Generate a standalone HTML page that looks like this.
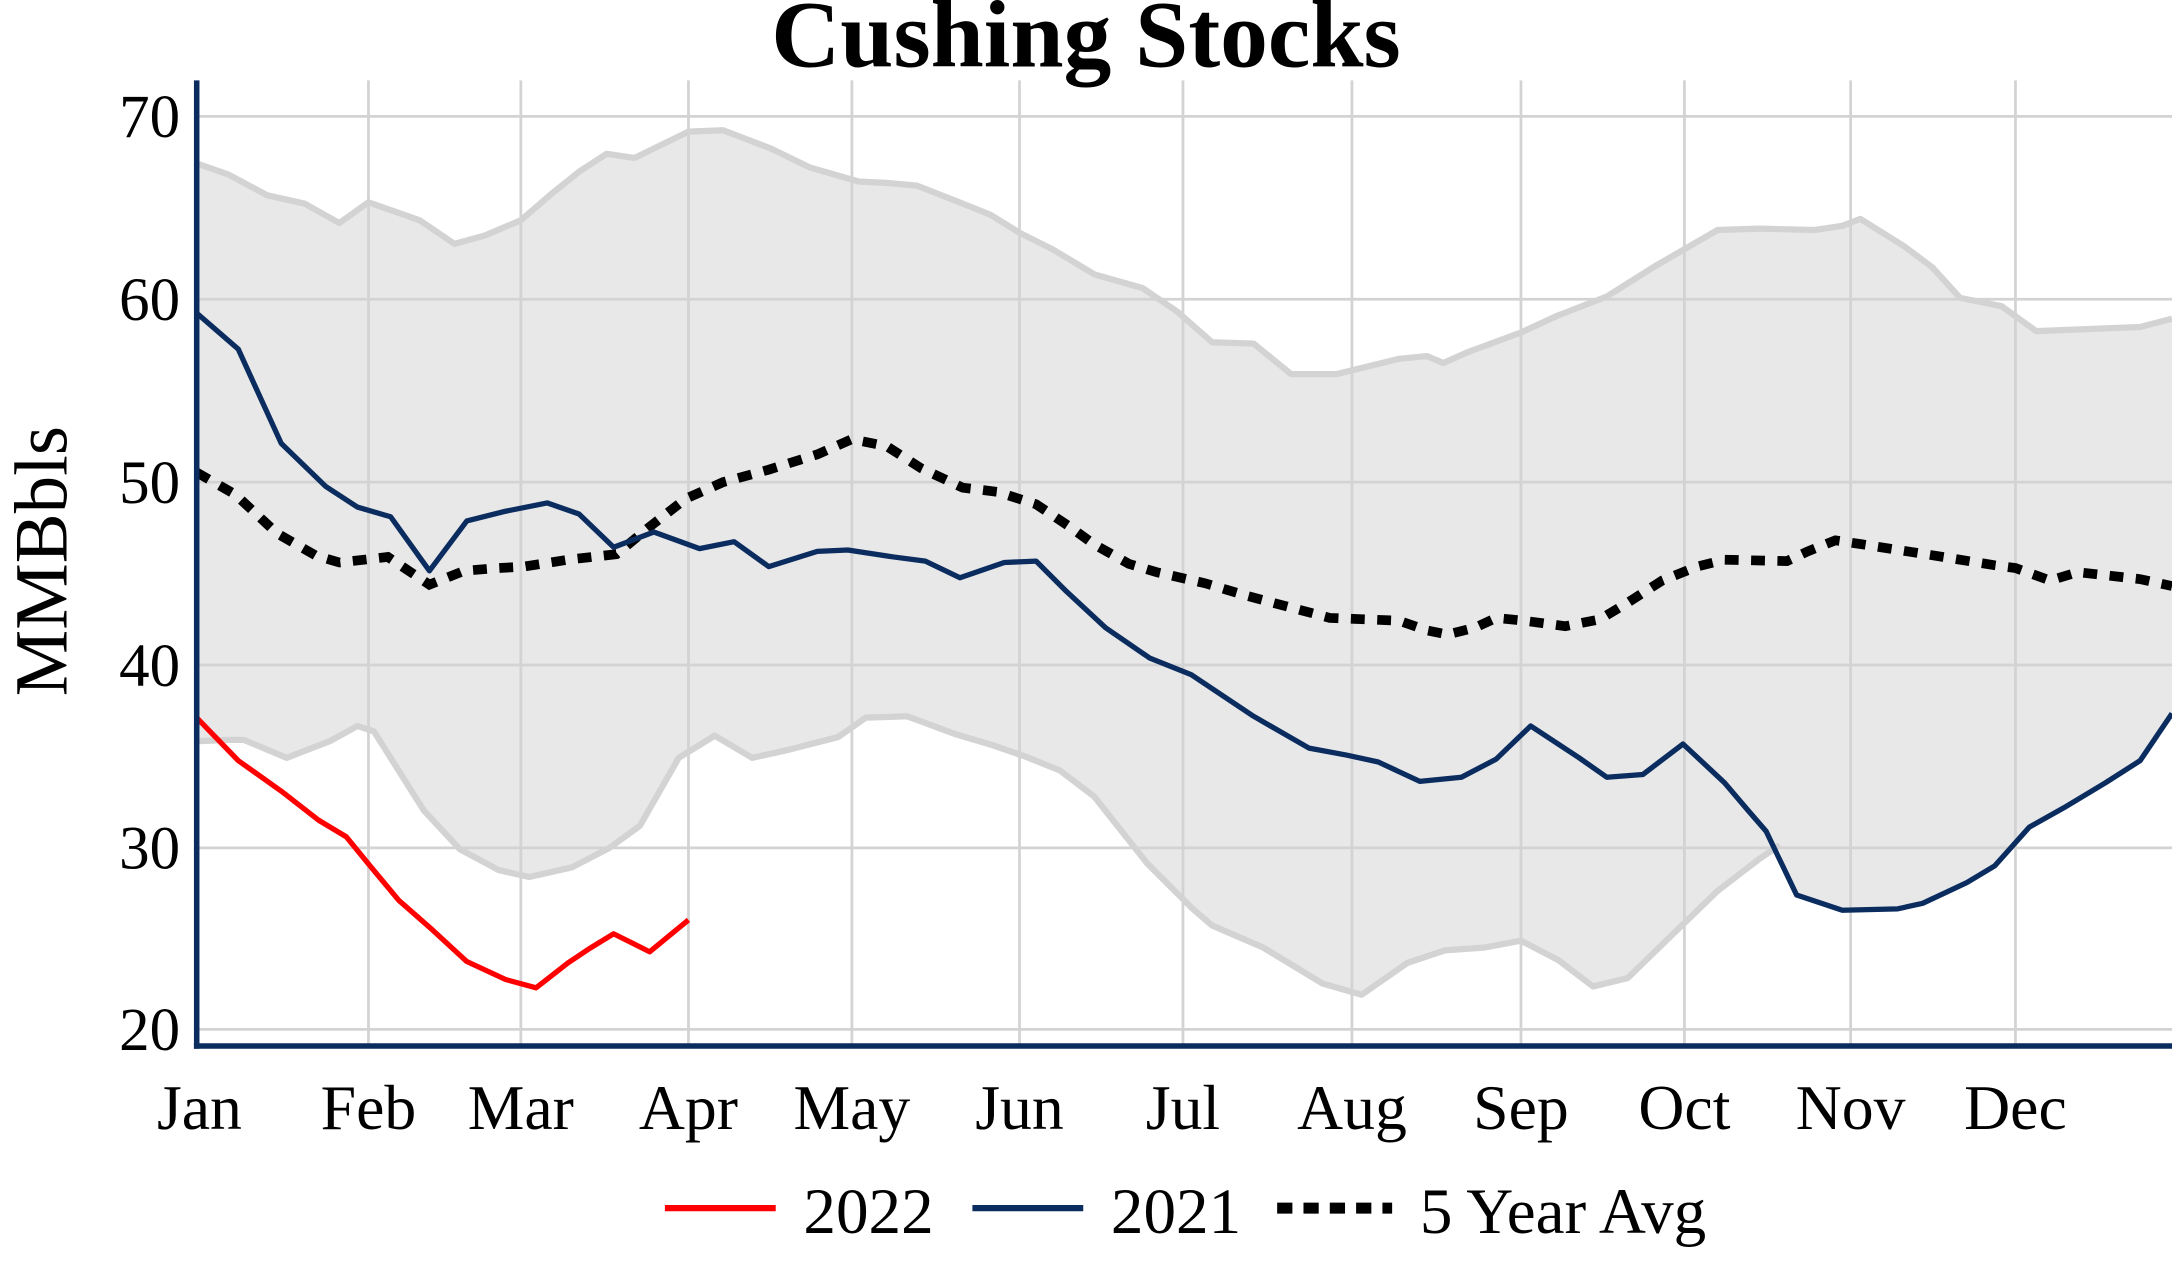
<!DOCTYPE html>
<html><head><style>html,body{margin:0;padding:0;background:#fff}svg{display:block}</style></head>
<body>
<svg width="2172" height="1276" viewBox="0 0 1568 921" preserveAspectRatio="none" xmlns="http://www.w3.org/2000/svg" font-family="Liberation Serif, serif">
<rect width="1568" height="921" fill="#fff"/>
<path fill="#e8e8e8" d="M142,118 L165,126 L193,141 L220,147 L245,161 L266,146 L303,159 L328,176 L350,170 L376,159 L398,140 L418,124 L438,111 L458,114 L497,95 L522,94 L556,107 L585,121 L620,131 L640,132 L662,134 L690,145 L715,155 L736,168 L760,180 L790,198 L825,208 L850,225 L875,247 L905,248 L932,270 L965,270 L1010,259 L1030,257 L1042,262 L1060,254 L1098,240 L1124,228 L1160,214 L1195,192 L1240,166 L1270,165 L1310,166 L1330,163 L1343,158 L1375,178 L1395,193 L1415,215 L1445,221 L1470,239 L1545,236 L1568,230 L1568,515 L1545,549 L1520,565 L1490,583 L1465,597 L1440,625 L1420,637 L1388,652 L1370,656 L1330,657 L1297,646 L1283,610 L1270,620 L1240,643 L1210,672 L1175,706 L1150,712 L1125,693 L1098,679 L1071,684 L1043,686 L1016,695 L983,718 L955,710 L912,684 L875,668 L860,655 L828,623 L790,575 L765,556 L740,546 L717,538 L690,530 L655,517 L625,518 L605,532 L570,541 L543,547 L516,531 L490,547 L462,596 L440,612 L413,626 L382,633 L360,628 L332,613 L306,585 L270,528 L258,524 L238,535 L207,547 L176,534 L165,534 L142,535 Z"/>
<g stroke="#d3d3d3" stroke-width="2">
<line x1="142" x2="1568" y1="84" y2="84"/><line x1="142" x2="1568" y1="216" y2="216"/><line x1="142" x2="1568" y1="348" y2="348"/><line x1="142" x2="1568" y1="480" y2="480"/><line x1="142" x2="1568" y1="612" y2="612"/><line x1="142" x2="1568" y1="743" y2="743"/>
<line x1="266" x2="266" y1="58" y2="755"/><line x1="376" x2="376" y1="58" y2="755"/><line x1="497" x2="497" y1="58" y2="755"/><line x1="615" x2="615" y1="58" y2="755"/><line x1="736" x2="736" y1="58" y2="755"/><line x1="854" x2="854" y1="58" y2="755"/><line x1="976" x2="976" y1="58" y2="755"/><line x1="1098" x2="1098" y1="58" y2="755"/><line x1="1216" x2="1216" y1="58" y2="755"/><line x1="1336" x2="1336" y1="58" y2="755"/><line x1="1455" x2="1455" y1="58" y2="755"/>
</g>
<g fill="none" stroke="#d3d3d3" stroke-width="4.5" stroke-linejoin="round">
<polyline points="142,118 165,126 193,141 220,147 245,161 266,146 303,159 328,176 350,170 376,159 398,140 418,124 438,111 458,114 497,95 522,94 556,107 585,121 620,131 640,132 662,134 690,145 715,155 736,168 760,180 790,198 825,208 850,225 875,247 905,248 932,270 965,270 1010,259 1030,257 1042,262 1060,254 1098,240 1124,228 1160,214 1195,192 1240,166 1270,165 1310,166 1330,163 1343,158 1375,178 1395,193 1415,215 1445,221 1470,239 1545,236 1568,230"/>
<polyline points="142,535 165,534 176,534 207,547 238,535 258,524 270,528 306,585 332,613 360,628 382,633 413,626 440,612 462,596 490,547 516,531 543,547 570,541 605,532 625,518 655,517 690,530 717,538 740,546 765,556 790,575 828,623 860,655 875,668 912,684 955,710 983,718 1016,695 1043,686 1071,684 1098,679 1125,693 1150,712 1175,706 1210,672 1240,643 1270,620 1285,610"/>
</g>
<polyline fill="none" stroke="#000" stroke-width="7" stroke-dasharray="10,9" points="142,341 170,357 200,385 228,401 245,406 280,402 310,422 335,412 360,410 378,409 410,404 445,400 468,381 495,360 522,348 555,339 590,328 615,317 640,322 665,338 695,352 720,355 748,364 772,380 790,393 815,407 835,413 870,421 900,430 930,438 960,446 985,447 1010,448 1030,455 1045,458 1065,453 1080,446 1100,448 1130,452 1155,447 1175,435 1200,419 1225,409 1245,404 1290,405 1305,398 1325,390 1345,393 1390,400 1440,408 1455,410 1480,419 1500,413 1545,418 1568,423"/>
<polyline fill="none" stroke="#0b2c5f" stroke-width="3.8" stroke-linejoin="round" points="142,226 172,252 203,320 235,351 258,366 282,373 310,412 337,376 365,369 395,363 418,371 443,395 472,384 505,396 530,391 555,409 590,398 612,397 645,402 668,405 693,417 725,406 748,405 770,427 798,453 830,475 860,487 905,517 945,540 972,545 995,550 1025,564 1055,561 1080,548 1105,524 1140,547 1160,561 1186,559 1215,537 1245,565 1262,585 1275,600 1297,646 1330,657 1370,656 1388,652 1420,637 1440,625 1465,597 1490,583 1520,565 1545,549 1568,515"/>
<polyline fill="none" stroke="#ff0000" stroke-width="3.8" stroke-linejoin="round" points="142,518 172,549 203,571 230,592 250,604 268,626 288,650 312,671 337,694 365,707 387,713 410,695 425,685 443,674 469,687 497,664"/>
<line x1="142" x2="142" y1="58" y2="757" stroke="#0b2c5f" stroke-width="4"/>
<line x1="140" x2="1568" y1="755" y2="755" stroke="#0b2c5f" stroke-width="4"/>
<text x="784" y="48" text-anchor="middle" font-size="69" font-weight="bold">Cushing Stocks</text>
<g font-size="44" text-anchor="end">
<text x="130" y="99">70</text><text x="130" y="231">60</text><text x="130" y="363">50</text><text x="130" y="495">40</text><text x="130" y="627">30</text><text x="130" y="758">20</text>
</g>
<g font-size="46" text-anchor="middle">
<text x="144" y="815">Jan</text><text x="266" y="815">Feb</text><text x="376" y="815">Mar</text><text x="497" y="815">Apr</text><text x="615" y="815">May</text><text x="736" y="815">Jun</text><text x="854" y="815">Jul</text><text x="976" y="815">Aug</text><text x="1098" y="815">Sep</text><text x="1216" y="815">Oct</text><text x="1336" y="815">Nov</text><text x="1455" y="815">Dec</text>
</g>
<text transform="translate(48,405) rotate(-90)" font-size="54" text-anchor="middle">MMBbls</text>
<line x1="480" x2="560" y1="872" y2="872" stroke="#ff0000" stroke-width="4.5"/>
<text x="580" y="890" font-size="47">2022</text>
<line x1="702" x2="782" y1="872" y2="872" stroke="#0b2c5f" stroke-width="4.5"/>
<text x="802" y="890" font-size="47">2021</text>
<line x1="922" x2="1005" y1="872" y2="872" stroke="#000" stroke-width="8" stroke-dasharray="11,8"/>
<text x="1025" y="890" font-size="47">5 Year Avg</text>
</svg>
</body></html>
